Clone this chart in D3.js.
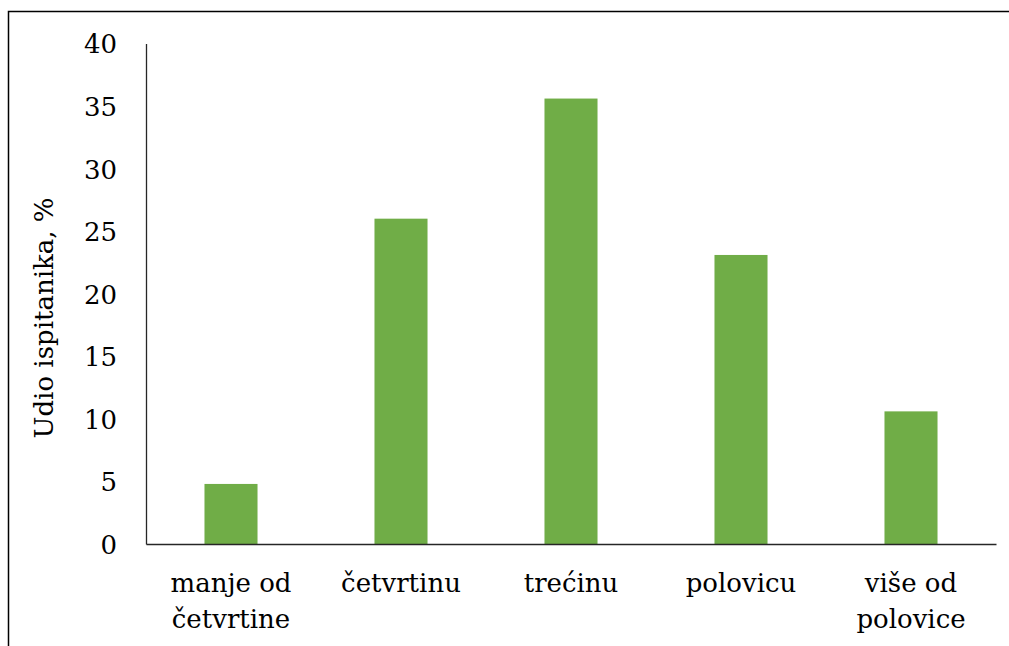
<!DOCTYPE html>
<html>
<head>
<meta charset="utf-8">
<script src="https://cdn.jsdelivr.net/npm/d3@7"></script>
<style>
  body { margin: 0; background: #fff; }
  svg text { fill: #000; }
</style>
</head>
<body>
<div id="container"></div>
<script>
// chart data
let categories = ["manje od|četvrtine", "četvrtinu", "trećinu", "polovicu", "više od|polovice"];
let values = [4.8, 26.0, 35.6, 23.1, 10.6];
let yTicks = [0, 5, 10, 15, 20, 25, 30, 35, 40];
let yLabel = "Udio ispitanika, %";

//Width and height
let w = 1009;
let h = 646;
// "Liberation Serif" comes out as a sans face here, so use DejaVu Serif
let serif = "DejaVu Serif";
let fs = "26px";

let svg = d3.select("#container")
  .append("svg")
  .attr("width", w)
  .attr("height", h)
  .attr("font-family", serif);

// outer frame (right and bottom edges fall outside the picture)
svg.append("rect")
  .attr("x", 8.5)
  .attr("y", 11.5)
  .attr("width", 1100)
  .attr("height", 700)
  .attr("fill", "none")
  .attr("stroke", "#000")
  .attr("stroke-width", 1.5);

let plot = { left: 146, right: 996, top: 43.5, bottom: 544 };

let x = d3.scaleBand()
  .domain(categories)
  .range([plot.left, plot.right])
  .paddingInner(0.688)
  .paddingOuter(0.344);

let y = d3.scaleLinear()
  .domain([0, 40])
  .range([plot.bottom, plot.top]);

// bars
svg.append("g")
  .selectAll("rect")
  .data(values)
  .enter()
  .append("rect")
    .attr("x", (d, i) => x(categories[i]))
    .attr("y", d => y(d))
    .attr("width", x.bandwidth())
    .attr("height", d => y(0) - y(d))
    .attr("fill", "#70AD47");

// y axis
let yAxis = d3.axisLeft(y)
  .tickValues(yTicks)
  .tickSize(0)
  .tickPadding(29);

let yG = svg.append("g")
  .attr("transform", `translate(${plot.left},0)`)
  .call(yAxis)
  .attr("font-family", serif);
yG.select(".domain").attr("stroke", "#262626").attr("stroke-width", 1.3);
yG.selectAll(".tick text")
  .style("font-size", fs)
  .attr("dy", "0.36em");

// x axis
let xAxis = d3.axisBottom(x)
  .tickSize(0)
  .tickFormat("");

let xG = svg.append("g")
  .attr("transform", `translate(0,${plot.bottom})`)
  .call(xAxis)
  .attr("font-family", serif);
xG.select(".domain").attr("stroke", "#262626").attr("stroke-width", 1.3);

// category labels, two lines where needed
xG.selectAll(".tick").each(function(d) {
  let lines = d.split("|");
  let t = d3.select(this).append("text")
    .attr("text-anchor", "middle")
    .style("font-size", fs);
  lines.forEach((line, k) => {
    t.append("tspan")
      .attr("x", 0)
      .attr("y", 48 + k * 35.5)
      .text(line);
  });
});

// y axis title
svg.append("text")
  .attr("transform", "translate(53,318) rotate(-90)")
  .attr("text-anchor", "middle")
  .style("font-size", fs)
  .text(yLabel);
</script>
</body>
</html>
